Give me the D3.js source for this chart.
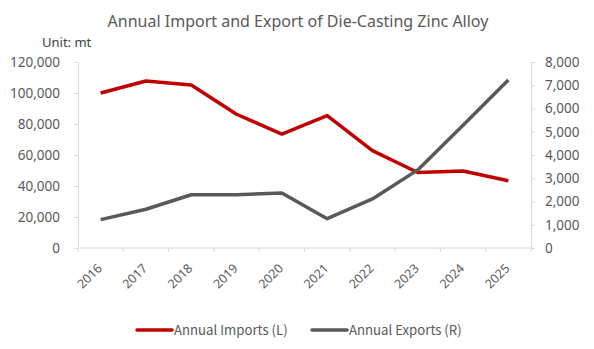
<!DOCTYPE html>
<html><head><meta charset="utf-8">
<script src="https://cdn.jsdelivr.net/npm/d3@7"></script>
<style>body{margin:0;background:#fff;} text{font-family:"Noto Sans",sans-serif;}</style>
</head><body>
<svg id="c" width="594" height="349"></svg>
<script>
const years = ["2016","2017","2018","2019","2020","2021","2022","2023","2024","2025"];
const imports = [100000,107700,105200,86300,73500,85400,62800,48700,49700,43400];
const exports = [1220,1665,2290,2290,2365,1260,2110,3360,5280,7230];
const leftTicks = [0,20000,40000,60000,80000,100000,120000];
const rightTicks = [0,1000,2000,3000,4000,5000,6000,7000,8000];
const title = "Annual Import and Export of Die-Casting Zinc Alloy";
const unitLabel = "Unit: mt";
const seriesNames = ["Annual Imports (L)","Annual Exports (R)"];

const svg = d3.select("#c");
const L = 78, R = 531, T = 62, B = 248;
const x = d3.scaleBand().domain(years).range([L,R]);
const yL = d3.scaleLinear().domain([0,120000]).range([B,T]);
const yR = d3.scaleLinear().domain([0,8000]).range([B,T]);
const fmt = d3.format(",");
const axisCol = "#d9d9d9", txtCol = "#595959";
const ff = '"Noto Sans",sans-serif';

svg.append("text").attr("x",298).attr("y",27).attr("text-anchor","middle")
  .attr("font-size",16).attr("fill",txtCol).text(title);
svg.append("text").attr("x",42).attr("y",47).attr("font-size",13).attr("fill","#404040").text(unitLabel);

// left axis
const gl = svg.append("g").attr("transform",`translate(${L},0)`)
  .call(d3.axisLeft(yL).tickValues(leftTicks).tickFormat(fmt).tickSize(4).tickPadding(14));
gl.selectAll("line,path").attr("stroke",axisCol);
gl.selectAll("text").attr("font-size",13.5).attr("fill",txtCol).style("font-family",ff);

// right axis
const gr = svg.append("g").attr("transform",`translate(${R},0)`)
  .call(d3.axisRight(yR).tickValues(rightTicks).tickFormat(fmt).tickSize(4).tickPadding(10));
gr.selectAll("line,path").attr("stroke",axisCol);
gr.selectAll("text").attr("font-size",13.5).attr("fill",txtCol).style("font-family",ff);

// x axis
const gx = svg.append("g").attr("transform",`translate(0,${B})`);
gx.append("line").attr("x1",L).attr("x2",R).attr("stroke",axisCol);
gx.selectAll("line.t").data(years.concat(["end"])).enter().append("line")
  .attr("x1",(d,i)=>L+i*x.bandwidth()).attr("x2",(d,i)=>L+i*x.bandwidth())
  .attr("y1",0).attr("y2",4).attr("stroke",axisCol);
gx.selectAll("text.yr").data(years).enter().append("text")
  .attr("transform",d=>`translate(${x(d)+x.bandwidth()/2-1},${18}) rotate(-45)`)
  .attr("text-anchor","end").attr("dy","0.35em").attr("font-size",12.5).attr("fill",txtCol).text(d=>d);

const cx = d => x(d)+x.bandwidth()/2;
const lineL = d3.line().x((d,i)=>cx(years[i])).y(d=>yL(d));
const lineR = d3.line().x((d,i)=>cx(years[i])).y(d=>yR(d));
svg.append("path").datum(imports).attr("d",lineL).attr("fill","none").attr("stroke","#C00000")
  .attr("stroke-width",3.5).attr("stroke-linejoin","round");
svg.append("path").datum(exports).attr("d",lineR).attr("fill","none").attr("stroke","#595959")
  .attr("stroke-width",3.5).attr("stroke-linejoin","round");

// legend
const leg = [{n:seriesNames[0],c:"#C00000",x:137},{n:seriesNames[1],c:"#595959",x:312}];
leg.forEach(l=>{
  svg.append("line").attr("x1",l.x).attr("x2",l.x+35).attr("y1",330).attr("y2",330)
    .attr("stroke",l.c).attr("stroke-width",3.5).attr("stroke-linecap","round");
  svg.append("text").attr("x",l.x+37).attr("y",330).attr("dy","0.35em").attr("font-size",13.2)
    .attr("fill",txtCol).style("font-family",'"Noto Sans CJK SC",sans-serif').text(l.n);
});
</script>
</body></html>
